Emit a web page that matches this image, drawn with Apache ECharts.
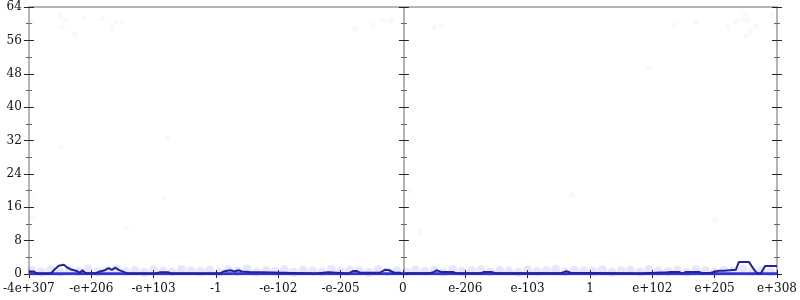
<!DOCTYPE html>
<html><head><meta charset="utf-8">
<script src="https://cdn.jsdelivr.net/npm/echarts@6/dist/echarts.min.js"></script>
<style>html,body{margin:0;padding:0;background:#fff}#c{width:800px;height:300px}</style>
</head><body><div id="c"></div>
<script>
// x positions are in axis units (0..12, one unit per labelled tick)
const tickLabels = ['-4e+307','-e+206','-e+103','-1','-e-102','-e-205','0','e-206','e-103','1','e+102','e+205','e+308'];
const yTicks = [0, 8, 16, 24, 32, 40, 48, 56, 64];

const lineX = [0.00,0.08,0.13,0.35,0.42,0.48,0.56,0.62,0.69,0.77,0.82,0.86,0.91,1.07,1.14,1.22,1.28,1.33,1.39,1.44,1.54,1.60,2.03,2.11,2.24,2.30,3.07,3.12,3.23,3.30,3.36,3.42,3.54,3.57,4.61,4.64,4.80,4.83,5.12,5.15,5.20,5.26,5.31,5.41,5.44,5.63,5.71,5.78,5.86,5.95,5.99,6.06,6.43,6.50,6.54,6.61,6.80,6.85,7.26,7.30,7.42,7.49,8.54,8.62,8.69,9.79,9.82,10.24,10.27,10.30,10.43,10.48,10.54,10.75,10.80,10.94,11.07,11.15,11.34,11.39,11.55,11.62,11.68,11.74,11.81,12.00];
const lineY = [0.6,0.6,0.1,0.1,1.2,2.0,2.2,1.5,1.0,0.7,0.3,0.9,0.2,0.2,0.6,0.9,1.4,1.0,1.5,1.0,0.4,0.1,0.1,0.4,0.4,0.1,0.1,0.6,0.9,0.6,0.9,0.6,0.5,0.1,0.1,0.4,0.4,0.1,0.1,0.4,0.7,0.7,0.3,0.3,0.1,0.3,1.0,0.9,0.3,0.3,0.0,0.2,0.2,0.5,0.9,0.5,0.5,0.2,0.2,0.5,0.5,0.2,0.2,0.7,0.3,0.1,0.4,0.4,0.2,0.5,0.5,0.1,0.5,0.5,0.2,0.3,0.8,0.8,1.0,2.9,2.9,1.3,0.2,0.1,1.9,1.9];

const bandX = [0.05,0.20,0.35,0.50,0.65,0.80,0.95,1.10,1.25,1.40,1.55,1.70,1.85,2.00,2.15,2.30,2.45,2.60,2.75,2.90,3.05,3.20,3.35,3.50,3.65,3.80,3.95,4.10,4.25,4.40,4.55,4.70,4.85,5.00,5.15,5.30,5.45,5.60,5.75,5.90,6.05,6.20,6.35,6.50,6.65,6.80,6.95,7.10,7.25,7.40,7.55,7.70,7.85,8.00,8.15,8.30,8.45,8.60,8.75,8.90,9.05,9.20,9.35,9.50,9.65,9.80,9.95,10.10,10.25,10.40,10.55,10.70,10.85,11.00,11.15,11.30,11.45,11.60,11.75,11.90];
const bandY = [0.8,0.5,1.0,0.4,0.9,0.6,1.1,0.5,0.8,1.2,0.6,0.9,0.4,1.0,0.7,0.5,1.1,0.8,0.6,0.9,0.4,1.0,0.7,1.2,0.5,0.8,0.6,1.0,0.4,0.9,0.7,0.5,1.1,0.6,0.9,0.8,0.4,1.0,0.6,0.8,0.5,1.0,0.7,0.9,0.4,1.1,0.6,0.8,1.0,0.5,0.9,0.7,0.4,1.0,0.6,0.8,1.1,0.5,0.9,0.7,0.6,1.0,0.4,0.8,0.9,0.5,1.1,0.7,0.6,0.9,0.4,1.0,0.8,0.5,0.9,0.7,1.2,0.6,0.8,0.5];

const dotX = [0.06,0.50,0.54,0.58,0.74,0.88,1.18,1.34,1.39,1.50,10.35,10.69,11.20,11.34,11.44,11.49,11.52,11.50,11.57,11.66,11.92,11.95,9.95,5.23,5.52,5.68,5.81,6.50,6.62,0.51,2.22,0.03,2.16,0.05,1.57,6.10,8.72,11.01,6.27];
const dotY = [60.4,61.8,59.2,60.7,57.5,61.4,61.1,59.2,60.4,60.4,59.7,60.4,59.2,60.4,61.1,62.3,60.7,57.0,58.0,59.5,62.0,59.7,49.4,58.7,59.7,60.9,60.7,59.2,59.5,30.5,32.6,18.5,18.2,13.7,11.0,20.0,19.0,13.0,10.0];

const pairs = (xs, ys) => xs.map((x, i) => [x, ys[i]]);
const font = 'DejaVu Serif';
const axisGray = '#b4b4b4';

function yAx(position, offset, inside, showLabel) {
  return {
    type: 'value', position: position, offset: offset, min: 0, max: 64, interval: 8,
    axisLine: { show: true, lineStyle: { color: axisGray, width: 2 } },
    axisTick: { show: true, inside: inside, length: 5, lineStyle: { color: '#222', width: 1 } },
    minorTick: { show: true, splitNumber: 2, length: 3, lineStyle: { color: '#666', width: 1 } },
    axisLabel: { show: showLabel, fontFamily: font, fontSize: 12, color: '#111', margin: 7,
      formatter: v => yTicks.indexOf(v) >= 0 ? String(v) : '' },
    splitLine: { show: false }
  };
}
function xAx(position, inside, showLabel, showTick) {
  return {
    type: 'value', position: position, min: 0, max: 12, interval: 1,
    axisLine: { show: true, onZero: false, lineStyle: { color: axisGray, width: 2 } },
    axisTick: { show: showTick, inside: inside, length: 4, lineStyle: { color: '#222', width: 1 } },
    axisLabel: { show: showLabel, fontFamily: font, fontSize: 12, color: '#111', margin: 9,
      formatter: v => tickLabels[Math.round(v)] || '' },
    splitLine: { show: false }
  };
}

const chart = echarts.init(document.getElementById('c'), null, { renderer: 'canvas' });
chart.setOption({
  animation: false,
  grid: { left: 28, right: 22, top: 7, bottom: 26, containLabel: false },
  xAxis: [xAx('bottom', false, true, true), xAx('bottom', true, false, true), xAx('top', false, false, false)],
  yAxis: [
    yAx('left', 0, false, true), yAx('left', 0, true, false),
    yAx('left', -375, false, false), yAx('left', -375, true, false),
    yAx('right', 0, false, false), yAx('right', 0, true, false)
  ],
  series: [
    { type: 'scatter', data: pairs(dotX, dotY), symbolSize: 5, silent: true,
      itemStyle: { color: 'rgba(110,110,245,0.07)' } },
    { type: 'scatter', data: pairs(bandX, bandY), symbolSize: 9, silent: true,
      itemStyle: { color: 'rgba(80,80,255,0.18)' } },
    { type: 'line', data: [[0, 0.05], [12, 0.05]], showSymbol: false, silent: true,
      lineStyle: { color: '#3434d4', width: 3 } },
    { type: 'line', data: pairs(lineX, lineY), showSymbol: false, silent: true,
      lineStyle: { color: '#22229a', width: 2 } }
  ]
});
</script></body></html>
